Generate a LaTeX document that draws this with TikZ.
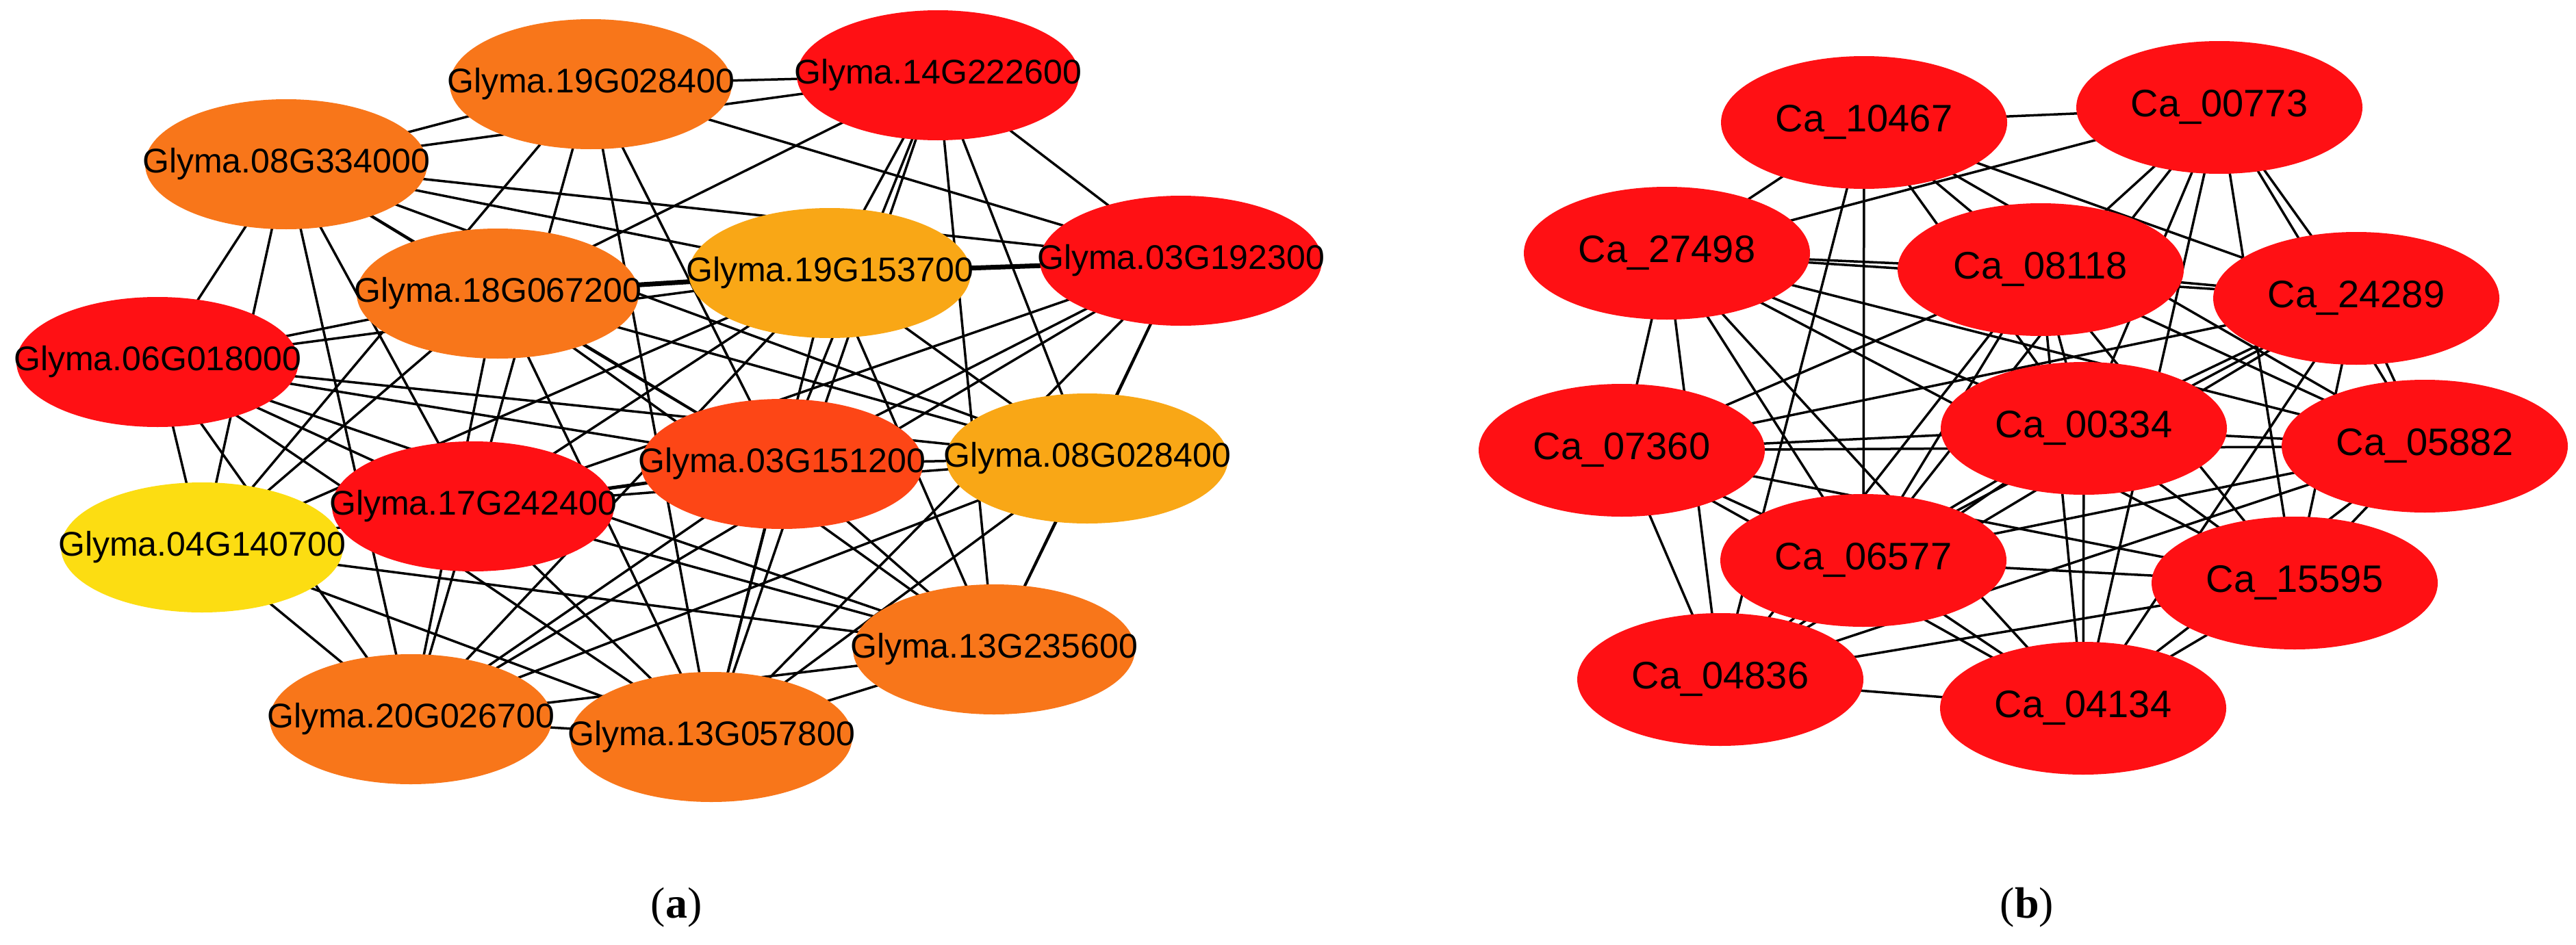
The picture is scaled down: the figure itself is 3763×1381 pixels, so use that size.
\documentclass[tikz,border=0pt]{standalone}
\usepackage{fontspec}
\setmainfont{Liberation Sans}
\newfontfamily\serifn{Liberation Serif}
\usetikzlibrary{shapes.geometric,backgrounds}
\definecolor{cred}{HTML}{FF1014}
\definecolor{corg}{HTML}{F8761A}
\definecolor{clor}{HTML}{F9A716}
\definecolor{cyel}{HTML}{FCDD12}
\definecolor{cdor}{HTML}{FD4616}
\newcommand{\zb}[1]{\makebox[0pt]{#1}}
\tikzset{
 gn/.style={ellipse,minimum width=412pt,minimum height=190pt,inner sep=0pt,font=\fontsize{50}{50}\selectfont},
 cn/.style={ellipse,fill=cred,minimum width=418pt,minimum height=194pt,inner sep=0pt,font=\fontsize{56}{56}\selectfont},
 ed/.style={line width=3.5pt,black},
 lab/.style={font=\serifn\fontsize{64}{64}\selectfont}
}
\begin{document}
\begin{tikzpicture}[x=1pt,y=-1pt]
\useasboundingbox (0,0) rectangle (3763,1381);
% (a)
\node[gn,fill=corg] (A) at (863,123) {\zb{Glyma.19G028400}};
\node[gn,fill=cred] (B) at (1370,110) {\zb{Glyma.14G222600}};
\node[gn,fill=corg] (C) at (418,240) {\zb{Glyma.08G334000}};
\node[gn,fill=corg] (D) at (727,429) {\zb{Glyma.18G067200}};
\node[gn,fill=clor] (E) at (1212,399) {\zb{Glyma.19G153700}};
\node[gn,fill=cred] (F) at (1725,381) {\zb{Glyma.03G192300}};
\node[gn,fill=cred] (G) at (230,529) {\zb{Glyma.06G018000}};
\node[gn,fill=cred] (H) at (691,740) {\zb{Glyma.17G242400}};
\node[gn,fill=cdor] (I) at (1142,678) {\zb{Glyma.03G151200}};
\node[gn,fill=clor] (J) at (1588,670) {\zb{Glyma.08G028400}};
\node[gn,fill=cyel] (K) at (295,800) {\zb{Glyma.04G140700}};
\node[gn,fill=corg] (L) at (1452,949) {\zb{Glyma.13G235600}};
\node[gn,fill=corg] (M) at (600,1051) {\zb{Glyma.20G026700}};
\node[gn,fill=corg] (N) at (1039,1077) {\zb{Glyma.13G057800}};
\node[lab] (la) at (988,1326) {(\textbf{a})};
% (b)
\node[cn] (a) at (2723,179) {\zb{Ca\_10467}};
\node[cn] (b) at (3242,157) {\zb{Ca\_00773}};
\node[cn] (c) at (2435,370) {\zb{Ca\_27498}};
\node[cn] (d) at (2981,394) {\zb{Ca\_08118}};
\node[cn] (e) at (3442,436) {\zb{Ca\_24289}};
\node[cn] (f) at (2369,658) {\zb{Ca\_07360}};
\node[cn] (g) at (3044,626) {\zb{Ca\_00334}};
\node[cn] (h) at (3542,652) {\zb{Ca\_05882}};
\node[cn] (i) at (2722,819) {\zb{Ca\_06577}};
\node[cn] (j) at (3352,852) {\zb{Ca\_15595}};
\node[cn] (k) at (2513,993) {\zb{Ca\_04836}};
\node[cn] (l) at (3043,1035) {\zb{Ca\_04134}};
\node[lab] (lb) at (2961,1326) {(\textbf{b})};
\begin{scope}[on background layer]
\fill[white] (0,0) rectangle (3763,1381);
\foreach \u/\v in {A/B,A/C,B/C,A/F,B/F,B/E,B/D,B/I,B/J,B/N,B/L,C/E,C/F,C/I,C/J,C/D,C/G,C/K,C/H,C/M,
 G/D,G/E,G/I,G/J,G/H,G/L,G/N,G/M,G/K,H/I,H/J,H/F,H/E,H/L,H/N,H/M,H/A,K/L,K/I,K/N,K/M,K/A,K/D,K/E,
 I/F,I/L,I/N,I/M,I/J,I/A,I/D,J/F,J/M,J/N,J/L,J/D,J/E,L/N,L/M,L/E,L/F,L/D,M/N,M/E,M/F,M/D,N/E,N/F,N/D,N/A,
 a/b,a/c,a/d,a/e,a/g,a/h,a/i,a/k,b/c,b/d,b/g,b/e,b/h,b/j,b/l,b/i,c/d,c/f,c/k,c/g,c/i,c/e,c/h,c/j,c/l,
 d/e,d/f,d/i,d/h,d/j,d/l,d/k,d/g,e/f,e/g,e/i,e/h,e/l,e/j,e/k,f/g,f/i,f/k,f/j,f/h,f/l,g/h,g/i,g/j,g/l,g/k,
 h/i,h/j,h/l,h/k,i/j,i/l,i/k,j/l,j/k,k/l}
 \draw[ed] (\u.center) -- (\v.center);
\draw[line width=7pt] (D.center) -- (E.center) -- (F.center);
\end{scope}
\end{tikzpicture}
\end{document}
